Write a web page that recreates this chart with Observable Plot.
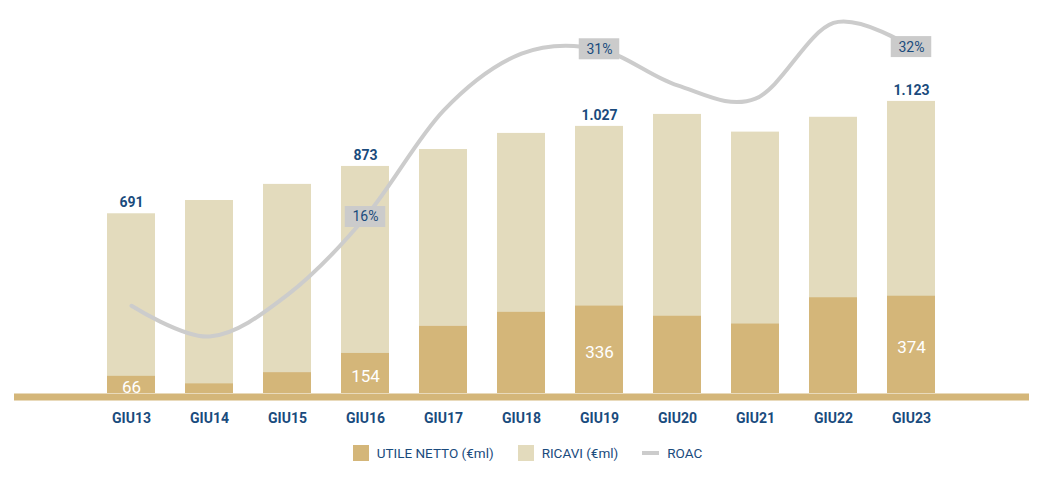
<!DOCTYPE html>
<html>
<head>
<meta charset="utf-8">
<script src="https://cdn.jsdelivr.net/npm/d3@7"></script>
<script src="https://cdn.jsdelivr.net/npm/@observablehq/plot@0.6"></script>
<style>
  html, body { margin: 0; padding: 0; background: #fff; }
  body { width: 1043px; font-family: Roboto, "Open Sans", sans-serif; }
  #legend { display: flex; justify-content: center; align-items: center; height: 34px; padding-left: 12px;
            font-family: Roboto, sans-serif; font-size: 13.5px; color: #1a4b7d; }
  .item { display: flex; align-items: center; margin: 0 12px; }
  .sw { width: 16px; height: 16px; margin-right: 8px; }
  .ln { width: 17px; height: 4px; margin-right: 8px; background: #cccccc; }
</style>
</head>
<body>
<div id="chart"></div>
<div id="legend">
  <div class="item"><div class="sw" style="background:#d4b679"></div>UTILE NETTO (€ml)</div>
  <div class="item"><div class="sw" style="background:#e3dbbd"></div>RICAVI (€ml)</div>
  <div class="item"><div class="ln"></div>ROAC</div>
</div>
<script>
const categories = ["GIU13","GIU14","GIU15","GIU16","GIU17","GIU18","GIU19","GIU20","GIU21","GIU22","GIU23"];
const ricavi = [691, 742, 804, 873, 938, 1000, 1027, 1073, 1005, 1062, 1123];
const utile  = [66, 37, 80, 154, 258, 312, 336, 297, 267, 368, 374];
const roac   = [8.0, 5.2, 9.0, 16.1, 25.8, 31.0, 31.4, 28.1, 26.9, 33.8, 31.6];
const ricaviLabelled = ["GIU13","GIU16","GIU19","GIU23"];
const utileLabelled  = ["GIU13","GIU16","GIU19","GIU23"];
const roacLabelled   = ["GIU16","GIU19","GIU23"];

const data = categories.map((c, i) => ({cat: c, ricavi: ricavi[i], utile: utile[i], roac: roac[i]}));

const it = d3.formatLocale({decimal: ",", thousands: ".", grouping: [3], currency: ["€", ""]});
const fmt = it.format(",.0f");

const blue = "#1a4b7d";
const yMax = 1511;          // primary axis (€ml) top
const roacMax = 35.85;      // secondary axis (%) top
const k = yMax / roacMax;   // secondary -> primary conversion

const chart = Plot.plot({
  width: 1043,
  height: 436,
  marginTop: 0,
  marginBottom: 43,
  marginLeft: 14,
  marginRight: 14,
  style: {fontFamily: "Roboto, sans-serif", color: blue, fontSize: "14px", fontWeight: "bold"},
  x: {domain: categories, paddingInner: 0.383, paddingOuter: 1.148, tickSize: 0, tickPadding: 20, label: null},
  y: {domain: [0, yMax], axis: null},
  marks: [
    Plot.barY(data, {x: "cat", y: "ricavi", fill: "#e3dbbd"}),
    Plot.barY(data, {x: "cat", y: "utile", fill: "#d4b679"}),
    Plot.ruleY([0], {stroke: "#d4b679", strokeWidth: 7, dy: 3.5}),
    Plot.line(data, {x: "cat", y: d => d.roac * k, stroke: "#cccccc", strokeWidth: 4, curve: "cardinal"}),
    Plot.barY(data.filter(d => roacLabelled.includes(d.cat)), {
      x: "cat", y1: d => d.roac * k, y2: d => d.roac * k,
      insetTop: -10.5, insetBottom: -10.5, insetLeft: 3.75, insetRight: 3.75, fill: "#cbcbcb"
    }),
    Plot.text(data.filter(d => roacLabelled.includes(d.cat)), {
      x: "cat", y: d => d.roac * k, text: d => d3.format(".0f")(d.roac) + "%",
      fill: blue, fontSize: 14, fontWeight: "normal"
    }),
    Plot.text(data.filter(d => ricaviLabelled.includes(d.cat)), {
      x: "cat", y: "ricavi", text: d => fmt(d.ricavi), dy: -11,
      fill: blue, fontSize: 14, fontWeight: "bold"
    }),
    Plot.text(data.filter(d => utileLabelled.includes(d.cat)), {
      x: "cat", y: d => d.utile / 2, text: d => fmt(d.utile), dy: 3,
      fill: "white", fontSize: 17, fontWeight: "normal"
    })
  ]
});
document.getElementById("chart").appendChild(chart);
</script>
</body>
</html>
